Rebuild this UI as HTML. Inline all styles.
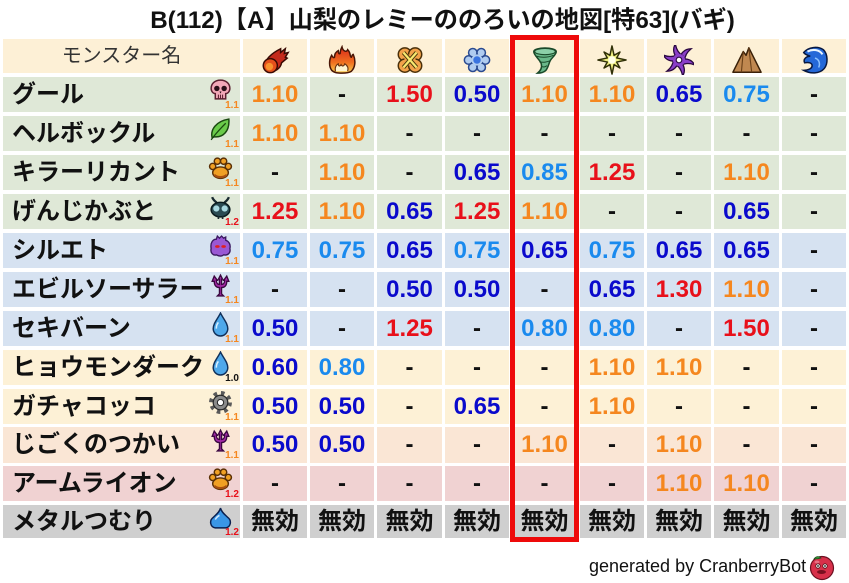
<!DOCTYPE html>
<html><head><meta charset="utf-8">
<style>
*{margin:0;padding:0;box-sizing:border-box}
html,body{width:849px;height:583px;background:#fff;overflow:hidden}
body{position:relative;font-family:"Liberation Sans","Noto Sans CJK JP",sans-serif}
.title{position:absolute;left:0;width:849px;padding-left:36px;top:7px;text-align:center;font-weight:bold;font-size:24.2px;line-height:28px;color:#111;white-space:nowrap}
.r{position:absolute;left:0;width:849px}
.r>div{position:absolute;top:0;height:100%;display:flex;align-items:center;justify-content:center;font-weight:bold;font-size:24px;line-height:1;color:#111;white-space:nowrap}
.r>.n{left:3px;width:237px;justify-content:flex-start;padding-left:9px}
.k1{left:243px;width:64px}.k2{left:310px;width:64px}.k3{left:377px;width:65px}
.k4{left:445px;width:64px}.k5{left:512px;width:65px}.k6{left:580px;width:64px}
.k7{left:647px;width:64px}.k8{left:714px;width:65px}.k9{left:782px;width:64px}
.H>div{background:#fdf0d6}
.G>div{background:#dfe8d7}
.B>div{background:#d6e2f1}
.Y>div{background:#fdf1d6}
.P>div{background:#fae6d5}
.K>div{background:#f0d2d2}
.M>div{background:#cfcfcf}
.o{color:#f5871f!important}.rd{color:#e8101a!important}.db{color:#0a0acc!important}.lb{color:#1a8aee!important}
.ic{position:absolute;left:205px;top:1px;width:25px;height:25px}
.lbl{position:absolute;right:1px;top:24px;font-size:10px;line-height:10px;font-weight:bold}
.hic{position:absolute;left:50%;top:6px;width:30px;height:30px;margin-left:-15px}
.redbox{position:absolute;left:510px;top:35px;width:69px;height:507px;border:5px solid #ee0a0a}
.foot{position:absolute;left:589px;top:556px;font-size:18px;line-height:20px;color:#111;white-space:nowrap}
</style></head><body>
<svg width="0" height="0" style="position:absolute">
<defs>
<linearGradient id="fg" x1="0" y1="0" x2="0" y2="1"><stop offset="0" stop-color="#d8281a"/><stop offset="0.6" stop-color="#f07020"/><stop offset="1" stop-color="#f8d050"/></linearGradient>
<symbol id="fire" viewBox="0 0 32 32">
<path d="M5 22 C6 14 14 8 22 4 L22 8 L27 4 L26 9 L30 8 L27 13 L29 14 L23 19 C22 25 16 29 10 28 C6 27 4 25 5 22Z" fill="#c42a1c" stroke="#3a0a04" stroke-width="1.6"/>
<circle cx="11" cy="22" r="7.5" fill="#e4501c" stroke="#3a0a04" stroke-width="1.6"/>
<circle cx="10" cy="23" r="4" fill="#f8922e"/>
</symbol>
<symbol id="flame" viewBox="0 0 32 32">
<path d="M16 2 C17 7 21 8 22 5 C26 9 24 13 26 13 C27 11 27 10 28 10 C31 17 30 24 26 28 C23 30 19 30 16 30 C12 30 8 30 5 27 C2 23 2 16 5 11 C6 13 7 14 8 13 C8 9 10 7 12 6 C12 9 13 10 14 9 C14 6 15 4 16 2Z" fill="url(#fg)" stroke="#4a1606" stroke-width="1.6"/>
<path d="M9 28 C8 24 10 21 12 20 C12 23 14 23 15 21 C16 23 18 23 19 20 C22 22 23 25 22 28" fill="#fff4d0" stroke="#6a3010" stroke-width="1.2"/>
</symbol>
<symbol id="clover" viewBox="0 0 32 32">
<g fill="#f2a24a" stroke="#4a300a" stroke-width="1.6"><circle cx="10.5" cy="10" r="7"/><circle cx="21.5" cy="10" r="7"/><circle cx="10.5" cy="22" r="7"/><circle cx="21.5" cy="22" r="7"/></g>
<circle cx="16" cy="16" r="6" fill="#f2a24a"/>
<path d="M9 8 L23 24 M23 8 L9 24" stroke="#4a3a0a" stroke-width="4.5"/>
<path d="M9 8 L23 24 M23 8 L9 24" stroke="#f8e870" stroke-width="2.4"/>
</symbol>
<symbol id="ice" viewBox="0 0 32 32">
<g fill="#b0ccf0" stroke="#2a4a90" stroke-width="1.6"><circle cx="25" cy="16" r="4.5"/><circle cx="20.5" cy="23.8" r="4.5"/><circle cx="11.5" cy="23.8" r="4.5"/><circle cx="7" cy="16" r="4.5"/><circle cx="11.5" cy="8.2" r="4.5"/><circle cx="20.5" cy="8.2" r="4.5"/></g>
<circle cx="16" cy="16" r="6" fill="#b0ccf0"/>
<circle cx="16" cy="16" r="4" fill="#3a74e0"/>
</symbol>
<symbol id="wind" viewBox="0 0 32 32">
<path d="M4 7 C4 2 28 2 28 7 C28 10 24 13 22 16 C20 19 20 23 17 27 C15 29 11 30 8 30 C12 27 13 24 12 20 C11 16 4 11 4 7Z" fill="#6ab98a" stroke="#1a4a2a" stroke-width="1.6"/>
<ellipse cx="16" cy="7" rx="11" ry="3.3" fill="#8cd0a8" stroke="#1a4a2a" stroke-width="1.2"/>
<path d="M7 12 C14 14 20 13 25 11 M10 18 C15 19 18 18 21 17 M13 23 C15 24 17 23 18 22" stroke="#1a4a2a" fill="none" stroke-width="1"/>
</symbol>
<symbol id="light" viewBox="0 0 32 32">
<polygon points="16,1 18.2,11 24.5,7.5 21,13.8 31,16 21,18.2 24.5,24.5 18.2,21 16,31 13.8,21 7.5,24.5 11,18.2 1,16 11,13.8 7.5,7.5 13.8,11" fill="#eeee80" stroke="#303008" stroke-width="1.6" stroke-linejoin="round"/>
<circle cx="16" cy="16" r="4" fill="#ffffe8"/>
</symbol>
<symbol id="dark" viewBox="0 0 32 32">
<g fill="#8a3ec8" stroke="#2a0840" stroke-width="1.4">
<path d="M16 16 C17 10 21 4 29 4 C24 8 22 12 22 17 Z"/>
<path d="M16 16 C17 10 21 4 29 4 C24 8 22 12 22 17 Z" transform="rotate(60 16 16)"/>
<path d="M16 16 C17 10 21 4 29 4 C24 8 22 12 22 17 Z" transform="rotate(120 16 16)"/>
<path d="M16 16 C17 10 21 4 29 4 C24 8 22 12 22 17 Z" transform="rotate(180 16 16)"/>
<path d="M16 16 C17 10 21 4 29 4 C24 8 22 12 22 17 Z" transform="rotate(240 16 16)"/>
<path d="M16 16 C17 10 21 4 29 4 C24 8 22 12 22 17 Z" transform="rotate(300 16 16)"/>
</g>
<circle cx="16" cy="16" r="6.5" fill="#8a3ec8"/>
<circle cx="16" cy="16" r="3" fill="#fff" stroke="#2a0840" stroke-width="1.2"/>
</symbol>
<symbol id="earth" viewBox="0 0 32 32">
<path d="M1 29 L12 7 L15 11 L18 3 L31 29 Z" fill="#c08850" stroke="#3a2008" stroke-width="1.6" stroke-linejoin="round"/>
<path d="M12 7 L10 29 M18 3 L21 29" stroke="#6a4018" stroke-width="1.2"/>
</symbol>
<symbol id="water" viewBox="0 0 32 32">
<path d="M5 8 C10 2 20 1 26 5 C31 10 31 20 27 25 C22 31 12 31 5 27 C10 27 14 25 14 22 C14 19 10 18 6 19 C4 15 8 12 12 12 C9 11 6 10 5 8Z" fill="#2468d8" stroke="#081840" stroke-width="1.6"/>
<path d="M9 7 C15 4 22 5 25 10" stroke="#e8f4ff" stroke-width="2.2" fill="none"/>
<path d="M17 14 C21 15 23 19 21 24" stroke="#8ac0ff" stroke-width="1.6" fill="none"/>
</symbol>
<symbol id="skull" viewBox="0 0 24 24">
<path d="M12 2 C6 2 3 6 3 10 C3 13 5 15 7 15 L7 20 L17 20 L17 15 C19 15 21 13 21 10 C21 6 18 2 12 2Z" fill="#f2a8b8" stroke="#5a2030" stroke-width="1.4"/>
<circle cx="8.5" cy="10" r="2.6" fill="#2a1018"/><circle cx="15.5" cy="10" r="2.6" fill="#2a1018"/>
<path d="M11 13 L12 15 L13 13Z" fill="#2a1018"/>
<path d="M10 16 V20 M12 16 V20 M14 16 V20" stroke="#5a2030"/>
</symbol>
<symbol id="leaf" viewBox="0 0 24 24">
<path d="M4 20 C2 12 8 4 20 2 C21 14 14 20 6 19 Z" fill="#6acb4a" stroke="#1a4a10" stroke-width="1.4"/>
<path d="M3 22 C8 15 12 11 17 6" stroke="#1a4a10" fill="none" stroke-width="1.2"/>
</symbol>
<symbol id="paw" viewBox="0 0 24 24">
<g fill="#f0a024" stroke="#5a3006" stroke-width="1.4">
<ellipse cx="12" cy="16" rx="7.5" ry="5.5"/>
<circle cx="4.5" cy="10" r="3"/><circle cx="9" cy="5" r="3"/><circle cx="15" cy="5" r="3"/><circle cx="19.5" cy="10" r="3"/></g>
<path d="M6 18 C9 21 15 21 18 18" stroke="#a85010" stroke-width="2" fill="none"/>
</symbol>
<symbol id="bug" viewBox="0 0 24 24">
<path d="M4 2 C5 5 7 6 9 8 M20 2 C19 5 17 6 15 8" stroke="#1a2a30" stroke-width="2.2" fill="none"/>
<ellipse cx="12" cy="14" rx="9" ry="7" fill="#2a4a52" stroke="#0a1a1e" stroke-width="1.4"/>
<circle cx="8" cy="13" r="3" fill="#a8d8e0"/><circle cx="16" cy="13" r="3" fill="#a8d8e0"/>
<path d="M10 20 L10 23 M14 20 L14 23" stroke="#1a2a30" stroke-width="1.6"/>
</symbol>
<symbol id="ghost" viewBox="0 0 24 24">
<path d="M3 14 C2 8 5 5 8 5 L9 2 L11 4 L13 2 L15 4 L17 3 L17 6 C20 7 22 10 21 14 C22 18 19 21 15 20 C13 22 10 21 8 20 C5 21 2 18 3 14Z" fill="#9a58d4" stroke="#3a1860" stroke-width="1.3"/>
<ellipse cx="9" cy="12" rx="2.2" ry="1.3" fill="#e02020"/><ellipse cx="15" cy="12" rx="2.2" ry="1.3" fill="#e02020"/>
</symbol>
<symbol id="trident" viewBox="0 0 24 24">
<path d="M12 2 L14 6 L13 6 L13 11 C15 11 16 9 16 7 L15 7 L18 3 L20 8 L18 8 C18 12 16 14 13 14 L13 20 L15 22 L9 22 L11 20 L11 14 C8 14 6 12 6 8 L4 8 L6 3 L9 7 L8 7 C8 9 9 11 11 11 L11 6 L10 6 Z" fill="#a42aa8" stroke="#3a0840" stroke-width="1.3"/>
</symbol>
<symbol id="drop" viewBox="0 0 24 24">
<path d="M12 1 C15 7 19 11 19 16 A7 7 0 0 1 5 16 C5 11 9 7 12 1Z" fill="#4ea8ea" stroke="#10305a" stroke-width="1.4"/>
<path d="M8 16 C8 13 9 11 10 10" stroke="#d8f0ff" stroke-width="1.5" fill="none"/>
</symbol>
<symbol id="gear" viewBox="0 0 24 24">
<circle cx="12" cy="12" r="8.5" fill="none" stroke="#5a5a5a" stroke-width="5" stroke-dasharray="3.2 3.5"/>
<circle cx="12" cy="12" r="7" fill="#8a8a8a" stroke="#2a2a2a" stroke-width="1.2"/>
<circle cx="12" cy="12" r="3" fill="#fff" stroke="#2a2a2a"/>
</symbol>
<symbol id="slime" viewBox="0 0 24 24">
<path d="M12 2 C13 6 16 8 19 11 C23 14 22 20 17 21 L7 21 C2 20 1 14 5 11 C8 8 11 6 12 2Z" fill="#3a96e6" stroke="#0a2050" stroke-width="1.4"/>
<path d="M7 13 C8 11 9 10 11 9" stroke="#cfe8ff" stroke-width="1.5" fill="none"/>
</symbol>
</defs>
</svg>

<div class="title">B(112)【A】山梨のレミーののろいの地図[特63](バギ)</div>

<div class="r H" style="top:39px;height:34px">
<div class="n" style="justify-content:center;padding-left:0;font-weight:normal;font-size:20px;color:#333">モンスター名</div>
<div class="k1"><svg class="hic" viewBox="0 0 32 32"><use href="#fire" x="0" y="0" width="32" height="32"/></svg></div>
<div class="k2"><svg class="hic" viewBox="0 0 32 32"><use href="#flame" x="0" y="0" width="32" height="32"/></svg></div>
<div class="k3"><svg class="hic" viewBox="0 0 32 32"><use href="#clover" x="0" y="0" width="32" height="32"/></svg></div>
<div class="k4"><svg class="hic" viewBox="0 0 32 32"><use href="#ice" x="0" y="0" width="32" height="32"/></svg></div>
<div class="k5"><svg class="hic" viewBox="0 0 32 32"><use href="#wind" x="0" y="0" width="32" height="32"/></svg></div>
<div class="k6"><svg class="hic" viewBox="0 0 32 32"><use href="#light" x="0" y="0" width="32" height="32"/></svg></div>
<div class="k7"><svg class="hic" viewBox="0 0 32 32"><use href="#dark" x="0" y="0" width="32" height="32"/></svg></div>
<div class="k8"><svg class="hic" viewBox="0 0 32 32"><use href="#earth" x="0" y="0" width="32" height="32"/></svg></div>
<div class="k9"><svg class="hic" viewBox="0 0 32 32"><use href="#water" x="0" y="0" width="32" height="32"/></svg></div>
</div>

<div class="r G" style="top:77px;height:35px">
<div class="n">グール<svg class="ic" viewBox="0 0 24 24"><use href="#skull" x="0" y="0" width="24" height="24"/></svg><span class="lbl o">1.1</span></div>
<div class="k1 o">1.10</div><div class="k2">-</div><div class="k3 rd">1.50</div><div class="k4 db">0.50</div><div class="k5 o">1.10</div><div class="k6 o">1.10</div><div class="k7 db">0.65</div><div class="k8 lb">0.75</div><div class="k9">-</div>
</div>

<div class="r G" style="top:116px;height:35px">
<div class="n">ヘルボックル<svg class="ic" viewBox="0 0 24 24"><use href="#leaf" x="0" y="0" width="24" height="24"/></svg><span class="lbl o">1.1</span></div>
<div class="k1 o">1.10</div><div class="k2 o">1.10</div><div class="k3">-</div><div class="k4">-</div><div class="k5">-</div><div class="k6">-</div><div class="k7">-</div><div class="k8">-</div><div class="k9">-</div>
</div>

<div class="r G" style="top:155px;height:35px">
<div class="n">キラーリカント<svg class="ic" viewBox="0 0 24 24"><use href="#paw" x="0" y="0" width="24" height="24"/></svg><span class="lbl o">1.1</span></div>
<div class="k1">-</div><div class="k2 o">1.10</div><div class="k3">-</div><div class="k4 db">0.65</div><div class="k5 lb">0.85</div><div class="k6 rd">1.25</div><div class="k7">-</div><div class="k8 o">1.10</div><div class="k9">-</div>
</div>

<div class="r G" style="top:194px;height:35px">
<div class="n">げんじかぶと<svg class="ic" viewBox="0 0 24 24"><use href="#bug" x="0" y="0" width="24" height="24"/></svg><span class="lbl rd">1.2</span></div>
<div class="k1 rd">1.25</div><div class="k2 o">1.10</div><div class="k3 db">0.65</div><div class="k4 rd">1.25</div><div class="k5 o">1.10</div><div class="k6">-</div><div class="k7">-</div><div class="k8 db">0.65</div><div class="k9">-</div>
</div>

<div class="r B" style="top:233px;height:35px">
<div class="n">シルエト<svg class="ic" viewBox="0 0 24 24"><use href="#ghost" x="0" y="0" width="24" height="24"/></svg><span class="lbl o">1.1</span></div>
<div class="k1 lb">0.75</div><div class="k2 lb">0.75</div><div class="k3 db">0.65</div><div class="k4 lb">0.75</div><div class="k5 db">0.65</div><div class="k6 lb">0.75</div><div class="k7 db">0.65</div><div class="k8 db">0.65</div><div class="k9">-</div>
</div>

<div class="r B" style="top:272px;height:35px">
<div class="n">エビルソーサラー<svg class="ic" viewBox="0 0 24 24"><use href="#trident" x="0" y="0" width="24" height="24"/></svg><span class="lbl o">1.1</span></div>
<div class="k1">-</div><div class="k2">-</div><div class="k3 db">0.50</div><div class="k4 db">0.50</div><div class="k5">-</div><div class="k6 db">0.65</div><div class="k7 rd">1.30</div><div class="k8 o">1.10</div><div class="k9">-</div>
</div>

<div class="r B" style="top:311px;height:35px">
<div class="n">セキバーン<svg class="ic" viewBox="0 0 24 24"><use href="#drop" x="0" y="0" width="24" height="24"/></svg><span class="lbl o">1.1</span></div>
<div class="k1 db">0.50</div><div class="k2">-</div><div class="k3 rd">1.25</div><div class="k4">-</div><div class="k5 lb">0.80</div><div class="k6 lb">0.80</div><div class="k7">-</div><div class="k8 rd">1.50</div><div class="k9">-</div>
</div>

<div class="r Y" style="top:350px;height:35px">
<div class="n">ヒョウモンダーク<svg class="ic" viewBox="0 0 24 24"><use href="#drop" x="0" y="0" width="24" height="24"/></svg><span class="lbl" style="color:#111">1.0</span></div>
<div class="k1 db">0.60</div><div class="k2 lb">0.80</div><div class="k3">-</div><div class="k4">-</div><div class="k5">-</div><div class="k6 o">1.10</div><div class="k7 o">1.10</div><div class="k8">-</div><div class="k9">-</div>
</div>

<div class="r Y" style="top:389px;height:35px">
<div class="n">ガチャコッコ<svg class="ic" viewBox="0 0 24 24"><use href="#gear" x="0" y="0" width="24" height="24"/></svg><span class="lbl o">1.1</span></div>
<div class="k1 db">0.50</div><div class="k2 db">0.50</div><div class="k3">-</div><div class="k4 db">0.65</div><div class="k5">-</div><div class="k6 o">1.10</div><div class="k7">-</div><div class="k8">-</div><div class="k9">-</div>
</div>

<div class="r P" style="top:427px;height:36px">
<div class="n">じごくのつかい<svg class="ic" viewBox="0 0 24 24"><use href="#trident" x="0" y="0" width="24" height="24"/></svg><span class="lbl o">1.1</span></div>
<div class="k1 db">0.50</div><div class="k2 db">0.50</div><div class="k3">-</div><div class="k4">-</div><div class="k5 o">1.10</div><div class="k6">-</div><div class="k7 o">1.10</div><div class="k8">-</div><div class="k9">-</div>
</div>

<div class="r K" style="top:466px;height:35px">
<div class="n">アームライオン<svg class="ic" viewBox="0 0 24 24"><use href="#paw" x="0" y="0" width="24" height="24"/></svg><span class="lbl rd">1.2</span></div>
<div class="k1">-</div><div class="k2">-</div><div class="k3">-</div><div class="k4">-</div><div class="k5">-</div><div class="k6">-</div><div class="k7 o">1.10</div><div class="k8 o">1.10</div><div class="k9">-</div>
</div>

<div class="r M" style="top:505px;height:33px">
<div class="n">メタルつむり<svg class="ic" viewBox="0 0 24 24"><use href="#slime" x="0" y="0" width="24" height="24"/></svg><span class="lbl rd" style="top:23px">1.2</span></div>
<div class="k1">無効</div><div class="k2">無効</div><div class="k3">無効</div><div class="k4">無効</div><div class="k5">無効</div><div class="k6">無効</div><div class="k7">無効</div><div class="k8">無効</div><div class="k9">無効</div>
</div>

<div class="redbox"></div>

<div class="foot">generated by CranberryBot</div>
<svg style="position:absolute;left:808px;top:553px" width="28" height="28" viewBox="0 0 28 28">
<circle cx="14" cy="15" r="11.5" fill="#d8304a" stroke="#6a1020" stroke-width="1.2"/>
<path d="M6 6 C8 3 11 3 13 5 C10 6 8 6 6 6Z" fill="#3a9a3a" stroke="#1a4a1a" stroke-width="0.8"/>
<circle cx="10" cy="13" r="2.2" fill="#fff" stroke="#4a0a10" stroke-width="0.8"/>
<circle cx="17" cy="13" r="2.2" fill="#fff" stroke="#4a0a10" stroke-width="0.8"/>
<circle cx="10" cy="13" r="0.9" fill="#111"/><circle cx="17" cy="13" r="0.9" fill="#111"/>
<ellipse cx="13.5" cy="19" rx="4.5" ry="2" fill="#7a1020"/>
<ellipse cx="9" cy="9" rx="2.5" ry="1.5" fill="#f08a9a" opacity="0.7"/>
</svg>
</body></html>
